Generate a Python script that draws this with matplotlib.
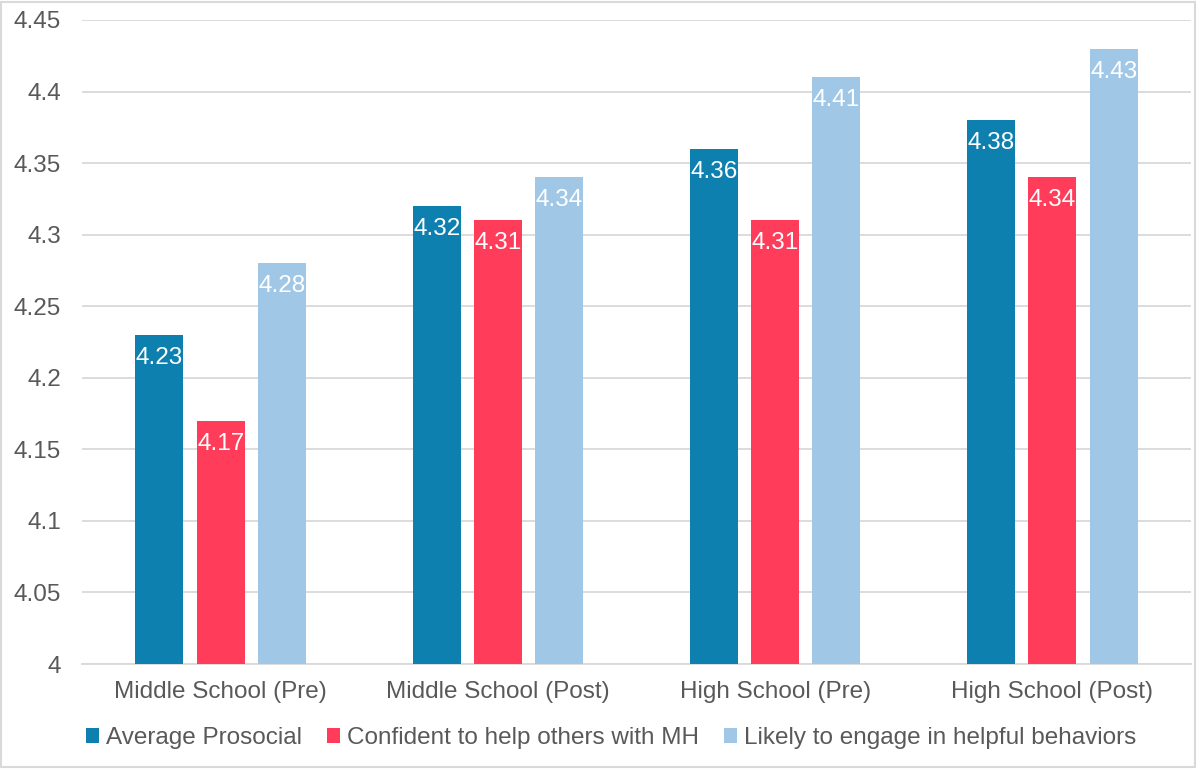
import numpy as np
import matplotlib.pyplot as plt
import matplotlib as mpl

mpl.rcParams['font.family'] = ['Liberation Sans', 'DejaVu Sans']

categories = ['Middle School (Pre)', 'Middle School (Post)', 'High School (Pre)', 'High School (Post)']
series_names = ['Average Prosocial', 'Confident to help others with MH', 'Likely to engage in helpful behaviors']
avg_prosocial = [4.23, 4.32, 4.36, 4.38]
confident_mh = [4.17, 4.31, 4.31, 4.34]
likely_helpful = [4.28, 4.34, 4.41, 4.43]
colors = ['#0E80B0', '#FF3D5B', '#A1C7E6']
text_grey = '#595959'
fs = 17.5

fig = plt.figure(figsize=(11.96, 7.69), dpi=100)
ax = fig.add_axes([0.0686, 0.1365, 0.9272, 0.8375])

x = np.arange(len(categories))
width = 0.173
offsets = [-0.221, 0, 0.221]
for vals, name, col, off in zip([avg_prosocial, confident_mh, likely_helpful], series_names, colors, offsets):
    bars = ax.bar(x + off, np.array(vals) - 4.0, width, bottom=4.0, color=col, label=name, zorder=3)
    for b, v in zip(bars, vals):
        ax.annotate(f'{v:.2f}', (b.get_x() + b.get_width() / 2, v), xytext=(0, -16.5),
                    textcoords='offset points', ha='center', va='center',
                    color='white', fontsize=fs, zorder=4)

ax.set_xlim(-0.5, 3.5)
ax.set_ylim(4.0, 4.45)
ticks = np.arange(4.0, 4.451, 0.05)
ax.set_yticks(ticks)
ax.set_yticklabels([f'{t:.2f}'.rstrip('0').rstrip('.') for t in ticks])
ax.yaxis.grid(True, color='#D9D9D9', linewidth=1.3, zorder=0)
ax.set_xticks(x)
ax.set_xticklabels(categories)
ax.tick_params(axis='both', length=0, labelsize=fs, colors=text_grey)
ax.tick_params(axis='y', pad=15)
ax.tick_params(axis='x', pad=12)
for s in ['top', 'right', 'left']:
    ax.spines[s].set_visible(False)
ax.spines['bottom'].set_color('#D9D9D9')
ax.spines['bottom'].set_linewidth(1.3)

leg = fig.legend(*ax.get_legend_handles_labels(), loc='center', bbox_to_anchor=(0.511, 0.040),
                 ncol=3, frameon=False, fontsize=fs, handlelength=0.55, handleheight=0.55,
                 handletextpad=0.3, columnspacing=1.0)
for t in leg.get_texts():
    t.set_color(text_grey)

# thin frame around the figure
fig.patches.append(plt.Rectangle((0.001, 0.002), 0.998, 0.996, transform=fig.transFigure,
                                 fill=False, edgecolor='#D9D9D9', linewidth=1.5))

fig.savefig('out.png', dpi=100)
